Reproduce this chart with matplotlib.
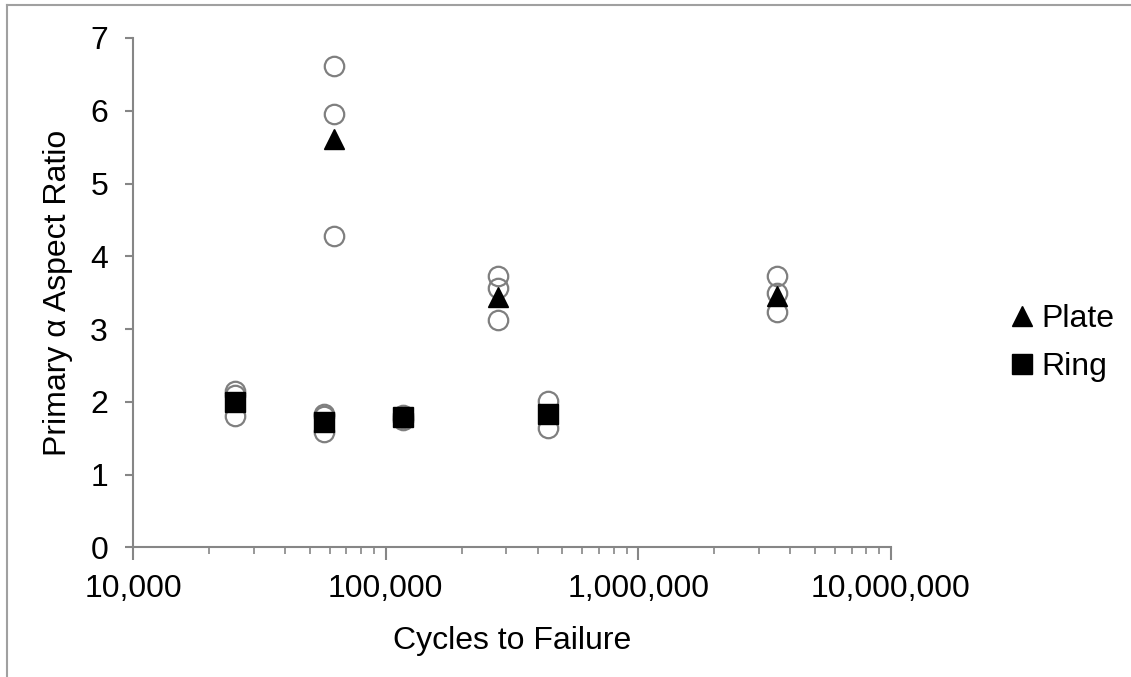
import matplotlib.pyplot as plt
from matplotlib.lines import Line2D
from matplotlib.ticker import FuncFormatter, LogLocator, NullFormatter

plt.rcParams['font.family'] = ['Liberation Sans', 'DejaVu Sans']

# Plate averages
plate_cycles = [62500, 278000, 3560000]
plate_ratio = [5.61, 3.44, 3.46]

# Ring averages
ring_cycles = [25400, 57000, 117000, 438000]
ring_ratio = [2.00, 1.73, 1.79, 1.84]

# individual measurements (open circles)
indiv_cycles = [62500, 62500, 62500,
                278000, 278000, 278000,
                3560000, 3560000, 3560000,
                25400, 25400, 25400,
                57000, 57000, 57000,
                117000, 117000, 117000,
                438000, 438000]
indiv_ratio = [6.62, 5.96, 4.28,
               3.73, 3.57, 3.12,
               3.73, 3.50, 3.23,
               2.15, 2.10, 1.80,
               1.84, 1.80, 1.58,
               1.82, 1.78, 1.75,
               2.01, 1.64]

gray = '#868686'
fs = 23

fig = plt.figure(figsize=(11.31, 6.77), dpi=100)
ax = fig.add_axes([0.1176, 0.1913, 0.67, 0.7526])

ax.plot(indiv_cycles, indiv_ratio, 'o', ms=14, mfc='none', mec='#7f7f7f',
        mew=1.6, zorder=2)
ax.plot(plate_cycles, plate_ratio, '^', ms=15, color='black', label='Plate', zorder=3)
ax.plot(ring_cycles, ring_ratio, 's', ms=14, color='black', label='Ring', zorder=3)

ax.set_xscale('log')
ax.set_xlim(1e4, 1e7)
ax.set_ylim(0, 7)
ax.set_yticks(range(8))
ax.xaxis.set_major_locator(LogLocator(base=10, numticks=10))
ax.xaxis.set_minor_locator(LogLocator(base=10, subs=range(2, 10), numticks=20))
ax.xaxis.set_minor_formatter(NullFormatter())
ax.xaxis.set_major_formatter(FuncFormatter(lambda v, p: f'{int(round(v)):,}'))

for s in ['top', 'right']:
    ax.spines[s].set_visible(False)
for s in ['left', 'bottom']:
    ax.spines[s].set_color(gray)
    ax.spines[s].set_linewidth(1.5)

ax.tick_params(axis='both', which='major', labelsize=fs, color=gray, width=1.5)
ax.tick_params(axis='y', which='major', length=6, pad=12)
ax.tick_params(axis='x', which='major', length=9, pad=10)
ax.tick_params(axis='x', which='minor', length=5, color=gray, width=1.2)

ax.set_xlabel('Cycles to Failure', fontsize=fs, labelpad=16)
ax.set_ylabel('Primary α Aspect Ratio', fontsize=fs, labelpad=12)

ax.legend(loc='center left', bbox_to_anchor=(0.881, 0.493),
          bbox_transform=fig.transFigure, frameon=False,
          fontsize=fs, handlelength=0.8, handletextpad=0.2, labelspacing=0.55,
          borderaxespad=0.0)

# outer chart border (top and left edges visible)
fig.add_artist(Line2D([0.0062, 1.0], [0.9926, 0.9926], color='#a0a0a0', lw=1.5,
                      transform=fig.transFigure))
fig.add_artist(Line2D([0.0062, 0.0062], [0.0, 0.9926], color='#a0a0a0', lw=1.5,
                      transform=fig.transFigure))

fig.savefig('out.png', dpi=100)
